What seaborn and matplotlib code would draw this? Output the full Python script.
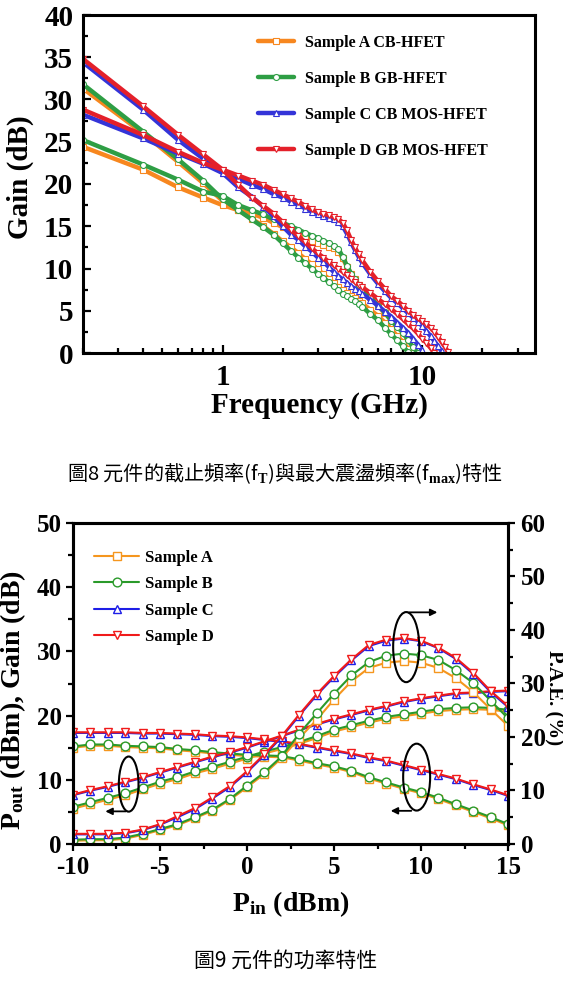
import matplotlib
matplotlib.use("Agg")
import matplotlib.pyplot as plt
import seaborn as sns
from matplotlib.patches import Ellipse
from matplotlib.ticker import MultipleLocator, LogLocator, FixedLocator, FixedFormatter, NullFormatter

# ---------------- Fig. 8 : gain vs frequency ----------------
freq_ghz = [0.2, 0.4, 0.6, 0.8, 1.0, 1.2, 1.4, 1.6, 1.8, 2.0, 2.2, 2.4, 2.6, 2.8, 3.0,
            3.2, 3.4, 3.6, 3.8, 4.0, 4.2, 4.4, 4.6, 4.8, 5.0, 5.5, 6.0, 6.5, 7.0, 7.5,
            8.0, 8.5, 9.0, 9.5, 10.0, 10.5, 11.0, 11.5, 12.0, 12.5, 13.0, 13.5, 14.0]

# h21 (steep) and U (with bump) for each sample, until the curve reaches 0 dB
gain_a_h21 = [31.3, 26.0, 22.6, 20.1, 18.0, 16.9, 15.9, 15.0, 14.1, 13.2, 12.5, 11.8, 11.1, 10.5, 9.9,
              9.3, 8.8, 8.3, 7.8, 7.4, 7.1, 6.8, 6.5, 6.2, 5.9, 5.1, 4.4, 3.6, 2.8, 2.0,
              1.3, 0.5, 0.0]
gain_a_u = [24.4, 21.7, 19.6, 18.4, 17.5, 16.9, 16.5, 16.0, 15.4, 14.9, 14.5, 14.1, 13.7, 13.3, 13.0,
            12.8, 12.6, 12.4, 12.0, 11.2, 10.2, 9.4, 8.7, 8.1, 7.6, 6.6, 5.6, 4.7, 3.9, 3.2,
            2.5, 1.8, 1.0, 0.3]
gain_b_h21 = [31.8, 26.2, 22.9, 20.4, 18.2, 16.9, 15.8, 14.9, 14.0, 13.0, 12.1, 11.3, 10.6, 10.0, 9.4,
              8.9, 8.4, 7.9, 7.4, 7.0, 6.7, 6.4, 6.1, 5.8, 5.5, 4.6, 3.9, 3.0, 2.2, 1.5,
              0.8, 0.1]
gain_b_u = [25.2, 22.3, 20.5, 19.1, 18.6, 17.5, 16.9, 16.4, 15.8, 15.4, 15.0, 14.6, 14.2, 13.9, 13.6,
            13.3, 13.0, 12.7, 12.3, 11.4, 10.3, 9.4, 8.7, 8.0, 7.6, 6.6, 5.6, 4.8, 3.8, 3.1,
            2.4, 1.5, 0.7, 0.0]
gain_c_h21 = [34.4, 28.8, 25.2, 23.0, 21.3, 19.6, 18.5, 17.3, 16.2, 15.0, 14.0, 13.4, 12.6, 12.0, 11.3,
              10.8, 10.2, 9.6, 9.1, 8.7, 8.3, 7.9, 7.6, 7.3, 7.0, 6.3, 5.6, 4.9, 4.3, 3.6,
              3.0, 2.4, 1.7, 1.0, 0.3]
gain_c_u = [28.2, 25.4, 23.6, 22.4, 21.3, 20.6, 19.9, 19.4, 18.8, 18.4, 17.9, 17.5, 17.1, 16.7, 16.4,
            16.2, 16.0, 15.8, 15.5, 15.0, 14.1, 13.1, 12.2, 11.4, 10.7, 9.3, 8.2, 7.3, 6.5, 5.9,
            5.3, 4.7, 4.2, 3.7, 3.2, 2.6, 2.0, 1.4, 0.8, 0.2]
gain_d_h21 = [34.8, 29.2, 25.8, 23.5, 21.7, 19.9, 18.4, 17.4, 16.5, 15.5, 14.6, 13.8, 13.1, 12.4, 11.8,
              11.3, 10.8, 10.4, 10.0, 9.6, 9.2, 8.8, 8.4, 8.1, 7.8, 7.1, 6.4, 5.8, 5.2, 4.6,
              4.0, 3.4, 2.9, 2.3, 1.7, 1.2, 0.6, 0.0]
gain_d_u = [28.8, 25.8, 23.8, 22.5, 21.7, 21.0, 20.4, 19.9, 19.3, 18.8, 18.3, 17.9, 17.4, 17.0, 16.7,
            16.5, 16.3, 16.1, 15.9, 15.4, 14.5, 13.4, 12.5, 11.7, 11.0, 9.6, 8.5, 7.6, 6.7, 6.2,
            5.6, 5.0, 4.5, 4.1, 3.8, 3.4, 3.0, 2.5, 1.9, 1.3, 0.7, 0.1]

fig8_names = ["Sample A CB-HFET", "Sample B GB-HFET", "Sample C CB MOS-HFET", "Sample D GB MOS-HFET"]

# ---------------- Fig. 9 : power characteristics ----------------
pin_dbm = [-10, -9, -8, -7, -6, -5, -4, -3, -2, -1, 0, 1, 2, 3, 4, 5, 6, 7, 8, 9, 10, 11, 12, 13, 14, 15]

pout_a = [5.5, 6.2, 6.9, 7.6, 8.5, 9.4, 10.1, 11.0, 11.7, 12.5, 13.3, 14.1, 14.8, 15.6, 16.5, 17.5, 18.2,
          18.9, 19.5, 19.9, 20.3, 20.7, 20.9, 21.0, 20.9, 20.6]
pout_b = [5.8, 6.5, 7.2, 7.9, 8.8, 9.7, 10.4, 11.3, 12.0, 12.8, 13.6, 14.4, 15.1, 15.9, 16.8, 17.8, 18.5,
          19.2, 19.8, 20.2, 20.6, 21.0, 21.2, 21.3, 21.2, 20.9]
pout_c = [7.6, 8.3, 8.9, 9.6, 10.3, 11.1, 11.9, 12.7, 13.5, 14.2, 15.0, 15.9, 16.8, 17.7, 18.6, 19.4, 20.1,
          20.8, 21.4, 22.1, 22.6, 23.0, 23.4, 23.5, 23.7, 23.8]
pout_d = [7.7, 8.4, 9.0, 9.7, 10.4, 11.2, 12.0, 12.8, 13.6, 14.3, 15.1, 16.0, 16.9, 17.8, 18.7, 19.5, 20.2,
          20.9, 21.5, 22.2, 22.7, 23.1, 23.5, 23.6, 23.8, 23.9]

gain_a = [15.0, 15.3, 15.3, 15.1, 15.0, 14.9, 14.6, 14.4, 14.1, 13.9, 13.7, 13.6, 13.5, 13.0, 12.4, 11.9,
          11.2, 10.2, 9.4, 8.6, 7.9, 7.0, 6.0, 5.0, 4.0, 2.9]
gain_b = [15.2, 15.5, 15.5, 15.3, 15.2, 15.1, 14.8, 14.6, 14.3, 14.1, 13.9, 13.8, 13.7, 13.2, 12.6, 12.1,
          11.4, 10.4, 9.6, 8.8, 8.1, 7.2, 6.2, 5.2, 4.2, 3.1]
gain_c = [17.3, 17.3, 17.3, 17.3, 17.2, 17.2, 17.1, 17.0, 16.8, 16.7, 16.5, 16.2, 15.9, 15.5, 15.0, 14.5,
          14.0, 13.4, 12.9, 12.2, 11.5, 10.8, 10.1, 9.2, 8.4, 7.5]
gain_d = [17.4, 17.4, 17.4, 17.4, 17.3, 17.3, 17.2, 17.1, 16.9, 16.8, 16.6, 16.3, 16.0, 15.6, 15.1, 14.6,
          14.1, 13.5, 13.0, 12.3, 11.6, 10.9, 10.2, 9.3, 8.5, 7.6]

pae_a = [0.6, 0.7, 0.7, 1.0, 1.7, 2.6, 3.5, 4.8, 6.2, 8.2, 10.6, 13.1, 16.1, 19.8, 23.2, 27.0, 30.4,
         32.9, 33.9, 34.2, 33.9, 32.9, 31.0, 28.4, 25.2, 22.1]
pae_b = [0.8, 0.9, 0.9, 1.2, 1.9, 2.8, 3.7, 5.0, 6.4, 8.4, 10.9, 13.4, 16.4, 20.6, 24.4, 28.1, 31.5,
         34.0, 35.2, 35.6, 35.3, 34.4, 32.5, 30.1, 26.8, 23.5]
pae_c = [1.8, 1.8, 1.8, 2.0, 2.6, 3.6, 5.0, 6.5, 8.5, 10.6, 13.4, 16.6, 20.0, 24.0, 27.8, 31.2, 34.3,
         37.0, 38.0, 38.4, 37.9, 36.6, 34.6, 31.8, 28.4, 25.6]
pae_d = [1.9, 1.9, 1.9, 2.1, 2.7, 3.7, 5.2, 6.7, 8.7, 10.8, 13.6, 16.8, 20.2, 24.2, 28.0, 31.4, 34.5,
         37.2, 38.2, 38.5, 38.0, 36.7, 34.8, 32.0, 28.6, 25.8]

fig9_names = ["Sample A", "Sample B", "Sample C", "Sample D"]

colors8 = ["#F7871F", "#2E9E44", "#3434D8", "#E4202A"]
colors9 = ["#F5961E", "#2A9A2A", "#1E1EE6", "#F01A1A"]
markers = ["s", "o", "^", "v"]

# ---------------- style ----------------
sns.set_style("ticks", {"axes.edgecolor": "black", "xtick.color": "black", "ytick.color": "black",
                        "text.color": "black", "axes.labelcolor": "black"})
plt.rcParams["font.family"] = ["Liberation Serif", "DejaVu Serif"]
plt.rcParams["font.weight"] = "bold"
plt.rcParams["axes.labelweight"] = "bold"
plt.rcParams["mathtext.fontset"] = "custom"
plt.rcParams["mathtext.rm"] = "Liberation Serif:bold"
plt.rcParams["mathtext.it"] = "Liberation Serif:bold"
plt.rcParams["mathtext.bf"] = "Liberation Serif:bold"
plt.rcParams["axes.unicode_minus"] = False
plt.rcParams["axes.linewidth"] = 2.2

W, H = 563, 984
fig = plt.figure(figsize=(W / 100, H / 100), dpi=100)
fig.patch.set_facecolor("white")

# ================= Fig. 8 =================
ax1 = fig.add_axes([83 / W, 1 - 353 / H, 452 / W, 338 / H])
fig8_curves = [(gain_a_h21, gain_a_u), (gain_b_h21, gain_b_u), (gain_c_h21, gain_c_u), (gain_d_h21, gain_d_u)]
for (g_h21, g_u), name, col, mk in zip(fig8_curves, fig8_names, colors8, markers):
    for k, g in enumerate((g_h21, g_u)):
        kw = dict(label=name) if k == 0 else {}
        sns.lineplot(x=freq_ghz[:len(g)], y=g, ax=ax1, color=col, linewidth=3.2,
                     marker=mk, markersize=4.3, markerfacecolor="white", markeredgecolor=col,
                     markeredgewidth=0.8, estimator=None, sort=False, **kw)

ax1.set_xscale("log")
ax1.set_xlim(0.2, 36.7)
ax1.set_ylim(0, 40)
ax1.xaxis.set_major_locator(FixedLocator([1, 10]))
ax1.xaxis.set_major_formatter(FixedFormatter(["1", "10"]))
ax1.xaxis.set_minor_locator(LogLocator(base=10, subs=range(2, 10), numticks=20))
ax1.xaxis.set_minor_formatter(NullFormatter())
ax1.yaxis.set_major_locator(MultipleLocator(5))
ax1.yaxis.set_minor_locator(MultipleLocator(2.5))
ax1.tick_params(which="both", direction="in", top=False, right=False, width=1.6, labelsize=21)
ax1.tick_params(which="major", length=6)
ax1.tick_params(which="minor", length=3.5)
ax1.tick_params(axis="y", pad=7)
ax1.tick_params(axis="x", pad=8)

ax1.set_xlabel("Frequency (GHz)", fontsize=21, va="center")
ax1.xaxis.set_label_coords(0.524, -0.154)
ax1.set_ylabel("Gain (dB)", fontsize=21, va="center")
ax1.yaxis.set_label_coords(-0.139, 0.521)

h1, l1 = ax1.get_legend_handles_labels()
ax1.legend(h1, l1, loc="upper left", bbox_to_anchor=(258 / W, 1 - 35 / H), bbox_transform=fig.transFigure,
           frameon=False, fontsize=11.5, handlelength=2.25, handletextpad=0.7, labelspacing=1.25,
           borderpad=0, borderaxespad=0)

fig.text(285 / W, 1 - 473 / H, r"圖8 元件的截止頻率(f$_\mathrm{T}$)與最大震盪頻率(f$_\mathrm{max}$)特性",
         family="Noto Sans CJK TC", fontweight="normal", fontsize=14.5, ha="center", va="center")

# ================= Fig. 9 =================
ax2 = fig.add_axes([73 / W, 1 - 844 / H, 435 / W, 321 / H])
ax3 = ax2.twinx()

fig9_curves = [(pout_a, gain_a, pae_a), (pout_b, gain_b, pae_b), (pout_c, gain_c, pae_c), (pout_d, gain_d, pae_d)]
for (po, ga, pa), name, col, mk in zip(fig9_curves, fig9_names, colors9, markers):
    style = dict(color=col, linewidth=1.5, marker=mk, markersize=6.3, markerfacecolor="white",
                 markeredgecolor=col, markeredgewidth=1.0, estimator=None, sort=False)
    sns.lineplot(x=pin_dbm, y=po, ax=ax2, label=name, **style)
    sns.lineplot(x=pin_dbm, y=ga, ax=ax2, **style)
    sns.lineplot(x=pin_dbm, y=pa, ax=ax3, **style)

ax2.set_xlim(-10, 15)
ax2.set_ylim(0, 50)
ax3.set_ylim(0, 60)
ax2.xaxis.set_major_locator(MultipleLocator(5))
ax2.xaxis.set_minor_locator(MultipleLocator(2.5))
ax2.yaxis.set_major_locator(MultipleLocator(10))
ax2.yaxis.set_minor_locator(MultipleLocator(5))
ax3.yaxis.set_major_locator(MultipleLocator(10))
ax3.yaxis.set_minor_locator(MultipleLocator(5))
ax2.tick_params(which="both", direction="out", top=False, right=False, width=1.6, labelsize=18)
ax3.tick_params(which="both", direction="out", width=1.6, labelsize=18)
for a in (ax2, ax3):
    a.tick_params(which="major", length=5)
    a.tick_params(which="minor", length=3.5)
ax2.tick_params(axis="x", pad=4)
ax2.tick_params(axis="y", pad=3)
ax3.tick_params(axis="y", pad=4)

ax2.set_xlabel(r"P$_\mathrm{in}$ (dBm)", fontsize=20, va="center")
ax2.xaxis.set_label_coords(0.501, -0.187)
ax2.set_ylabel(r"P$_\mathrm{out}$ (dBm), Gain (dB)", fontsize=20, va="center")
ax2.yaxis.set_label_coords(-0.138, 0.449)
ax3.set_ylabel("P.A.E. (%)", fontsize=15, rotation=270, va="center")
ax3.yaxis.set_label_coords(1.105, 0.455)

# ellipses with arrows marking which axis the curves belong to (right-axis units)
ell_style = dict(fill=False, edgecolor="black", linewidth=1.5, transform=ax3.transData, zorder=5)
arrow_style = dict(arrowstyle="-|>", color="black", lw=1.3, mutation_scale=10)
ax3.add_patch(Ellipse((-6.8, 11.2), 1.13, 10.3, **ell_style))
ax3.annotate("", xy=(-8.3, 6.1), xytext=(-6.8, 6.1), arrowprops=arrow_style)
ax3.add_patch(Ellipse((9.15, 36.8), 1.5, 13.1, **ell_style))
ax3.annotate("", xy=(11.1, 43.3), xytext=(9.15, 43.3), arrowprops=arrow_style)
ax3.add_patch(Ellipse((9.75, 12.5), 1.55, 12.5, **ell_style))
ax3.annotate("", xy=(8.1, 6.2), xytext=(9.6, 6.2), arrowprops=arrow_style)
ax3.set_ylim(0, 60)
ax2.set_xlim(-10, 15)

# drop the automatic seaborn legends, keep one hand-placed legend
h2, l2 = ax2.get_legend_handles_labels()
for a in (ax2, ax3):
    if a.get_legend() is not None:
        a.get_legend().remove()
ax3.legend(h2, l2, loc="upper left", bbox_to_anchor=(94 / W, 1 - 550 / H), bbox_transform=fig.transFigure,
           frameon=False, fontsize=12, handlelength=2.7, handletextpad=0.35, labelspacing=0.62,
           borderpad=0, borderaxespad=0)

fig.text(286 / W, 1 - 961 / H, "圖9 元件的功率特性", family="Noto Sans CJK TC", fontweight="normal",
         fontsize=15, ha="center", va="center")

fig.savefig("out.png", dpi=100)
